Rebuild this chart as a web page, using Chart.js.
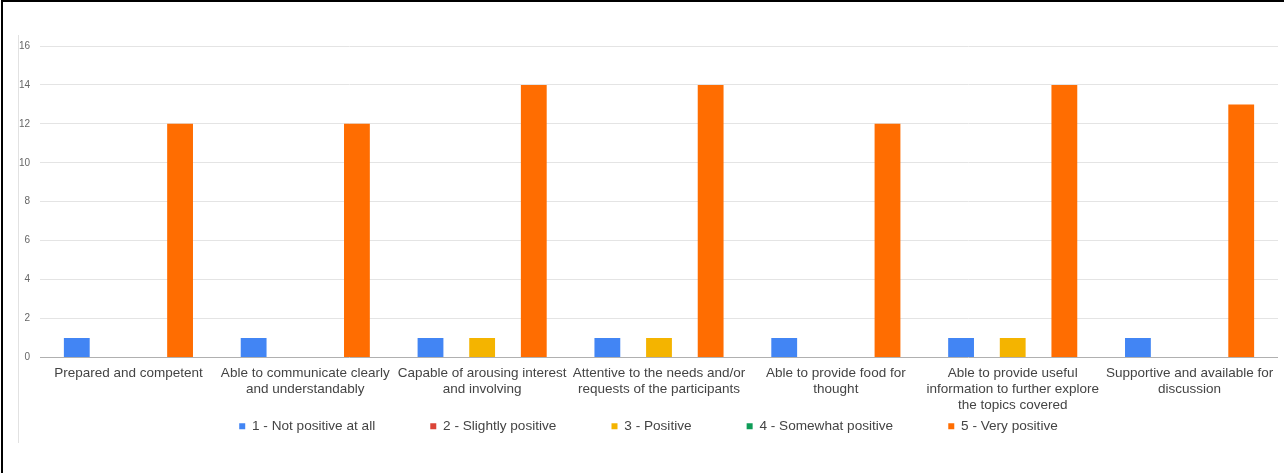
<!DOCTYPE html>
<html>
<head>
<meta charset="utf-8">
<script src="https://cdn.jsdelivr.net/npm/chart.js@4.4.0/dist/chart.umd.min.js"></script>
<style>
  html, body { margin: 0; padding: 0; background: #fff; overflow: hidden; }
  #frame { position: absolute; left: 1px; top: 0; width: 1283px; height: 473px; border-left: 2px solid #000; border-top: 2px solid #000; box-sizing: border-box; }
  #edge { position: absolute; left: 18px; top: 35px; width: 1px; height: 408px; background: #e2e2e2; }
  #wrap { position: absolute; left: 19px; top: 30px; width: 1262px; height: 442px; }
</style>
</head>
<body>
<div id="frame"></div>
<div id="edge"></div>
<div id="wrap"><canvas id="myChart"></canvas></div>
<script>
// categories (x labels are wrapped like in the sheet)
const questions = [
    'Prepared and competent',
    ['Able to communicate clearly', 'and understandably'],
    ['Capable of arousing interest', 'and involving'],
    ['Attentive to the needs and/or', 'requests of the participants'],
    ['Able to provide food for', 'thought'],
    ['Able to provide useful', 'information to further explore', 'the topics covered'],
    ['Supportive and available for', 'discussion']
];

// answers count per rating
const notPositive = [1, 1, 1, 1, 1, 1, 1];
const slightlyPositive = [0, 0, 0, 0, 0, 0, 0];
const positive = [0, 0, 1, 1, 0, 1, 0];
const somewhatPositive = [0, 0, 0, 0, 0, 0, 0];
const veryPositive = [12, 12, 14, 14, 12, 14, 13];

const yTicks = [0, 2, 4, 6, 8, 10, 12, 14, 16];

const ctx = document.getElementById('myChart').getContext('2d');
const myChart = new Chart(ctx, {
    type: 'bar',
    data: {
        labels: questions,
        datasets: [{
            label: '1 - Not positive at all',
            data: notPositive,
            backgroundColor: '#4285f4'
        },
        {
            label: '2 - Slightly positive',
            data: slightlyPositive,
            backgroundColor: '#db4437'
        },
        {
            label: '3 - Positive',
            data: positive,
            backgroundColor: '#f4b400'
        },
        {
            label: '4 - Somewhat positive',
            data: somewhatPositive,
            backgroundColor: '#0f9d58'
        },
        {
            label: '5 - Very positive',
            data: veryPositive,
            backgroundColor: '#ff6d01'
        }]
    },
    options: {
        responsive: true,
        maintainAspectRatio: false,
        animation: false,
        datasets: {
            bar: {
                categoryPercentage: 0.73,
                barPercentage: 1.0
            }
        },
        layout: {
            padding: { top: 10, right: 3, bottom: 29, left: 0 }
        },
        scales: {
            x: {
                grid: { display: false },
                border: { display: false },
                ticks: {
                    color: '#444',
                    padding: 0,
                    maxRotation: 0,
                    autoSkip: false,
                    font: { family: 'Liberation Sans', size: 13.5, lineHeight: 1.185 }
                },
                afterFit: (scale) => { scale.height = 56; }
            },
            y: {
                min: 0,
                max: 16,
                afterBuildTicks: (scale) => { scale.ticks = yTicks.map(v => ({ value: v })); },
                grid: {
                    drawTicks: false,
                    color: (c) => c.tick && c.tick.value === 0 ? '#b0b0b0' : '#e4e4e4'
                },
                border: { display: false },
                ticks: {
                    color: '#666',
                    padding: 10,
                    font: { family: 'Liberation Sans', size: 10 }
                },
                afterFit: (scale) => { scale.width = 21; }
            }
        },
        plugins: {
            legend: {
                position: 'bottom',
                labels: {
                    color: '#444',
                    boxWidth: 6,
                    boxHeight: 6,
                    padding: 6,
                    font: { family: 'Liberation Sans', size: 13.6 },
                    // gap between legend items like in the sheet
                    generateLabels: (chart) => {
                        const items = Chart.defaults.plugins.legend.labels.generateLabels(chart);
                        items.forEach((it, i) => {
                            if (i < items.length - 1) it.text = it.text + '             ';
                        });
                        return items;
                    }
                }
            },
            tooltip: { enabled: false }
        }
    }
});
</script>
</body>
</html>
